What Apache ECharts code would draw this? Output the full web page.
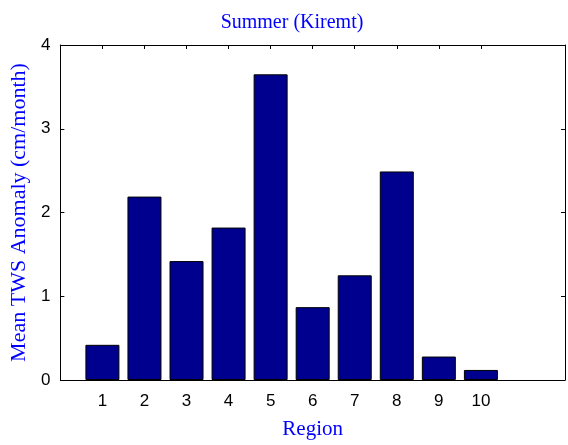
<!DOCTYPE html>
<html>
<head>
<meta charset="utf-8">
<script src="https://cdn.jsdelivr.net/npm/echarts@6/dist/echarts.min.js"></script>
<style>html,body{margin:0;padding:0;background:#fff;}#c{width:568px;height:445px;}</style>
</head>
<body>
<div id="c"></div>
<script>
var regions = [1, 2, 3, 4, 5, 6, 7, 8, 9, 10];
var anomaly = [0.42, 2.19, 1.42, 1.82, 3.65, 0.87, 1.25, 2.49, 0.28, 0.12];
var yTicks = [0, 1, 2, 3, 4];
var titleText = 'Summer (Kiremt)';
var xName = 'Region';
var yName = 'Mean TWS Anomaly (cm/month)';

var chart = echarts.init(document.getElementById('c'));
var data = regions.map(function (r, i) { return [r, anomaly[i]]; });
var serif = '"Liberation Serif", "Times New Roman", serif';
var sans = '"Liberation Sans", Arial, sans-serif';
chart.setOption({
  animation: false,
  backgroundColor: '#fff',
  title: {
    text: titleText,
    left: 287, top: 8, textAlign: 'center',
    textStyle: { color: '#0000ff', fontFamily: serif, fontWeight: 'normal', fontSize: 20 }
  },
  grid: { left: 60, right: 3, top: 45, bottom: 63 },
  xAxis: [{
    type: 'value', min: 0, max: 12, interval: 1,
    name: xName, nameLocation: 'middle', nameGap: 39,
    nameTextStyle: { color: '#0000ff', fontFamily: serif, fontSize: 21 },
    axisLine: { show: true, onZero: false, lineStyle: { color: '#000', width: 1 } },
    axisTick: { show: true, inside: true, length: 4, customValues: regions, lineStyle: { color: '#000' } },
    axisLabel: { customValues: regions, color: '#000', fontFamily: sans, fontSize: 17, margin: 13 },
    splitLine: { show: false }
  }, {
    type: 'value', min: 0, max: 12, interval: 1, position: 'top',
    axisLine: { show: true, onZero: false, lineStyle: { color: '#000', width: 1 } },
    axisTick: { show: true, inside: true, length: 4, customValues: regions, lineStyle: { color: '#000' } },
    axisLabel: { show: false },
    splitLine: { show: false }
  }],
  yAxis: [{
    type: 'value', min: 0, max: 4, interval: 1,
    name: yName, nameLocation: 'middle', nameGap: 27, nameRotate: 90,
    nameTextStyle: { color: '#0000ff', fontFamily: serif, fontSize: 22 },
    axisLine: { show: true, onZero: false, lineStyle: { color: '#000', width: 1 } },
    axisTick: { show: true, inside: true, length: 4, lineStyle: { color: '#000' } },
    axisLabel: { color: '#000', fontFamily: sans, fontSize: 17, margin: 10,
      customValues: yTicks },
    splitLine: { show: false }
  }, {
    type: 'value', min: 0, max: 4, interval: 1, position: 'right',
    axisLine: { show: true, onZero: false, lineStyle: { color: '#000', width: 1 } },
    axisTick: { show: true, inside: true, length: 4, lineStyle: { color: '#000' } },
    axisLabel: { show: false },
    splitLine: { show: false }
  }],
  series: [{
    type: 'bar',
    data: data,
    barWidth: 34,
    itemStyle: { color: '#00008f', borderColor: '#000', borderWidth: 1 }
  }]
});
</script>
</body>
</html>
